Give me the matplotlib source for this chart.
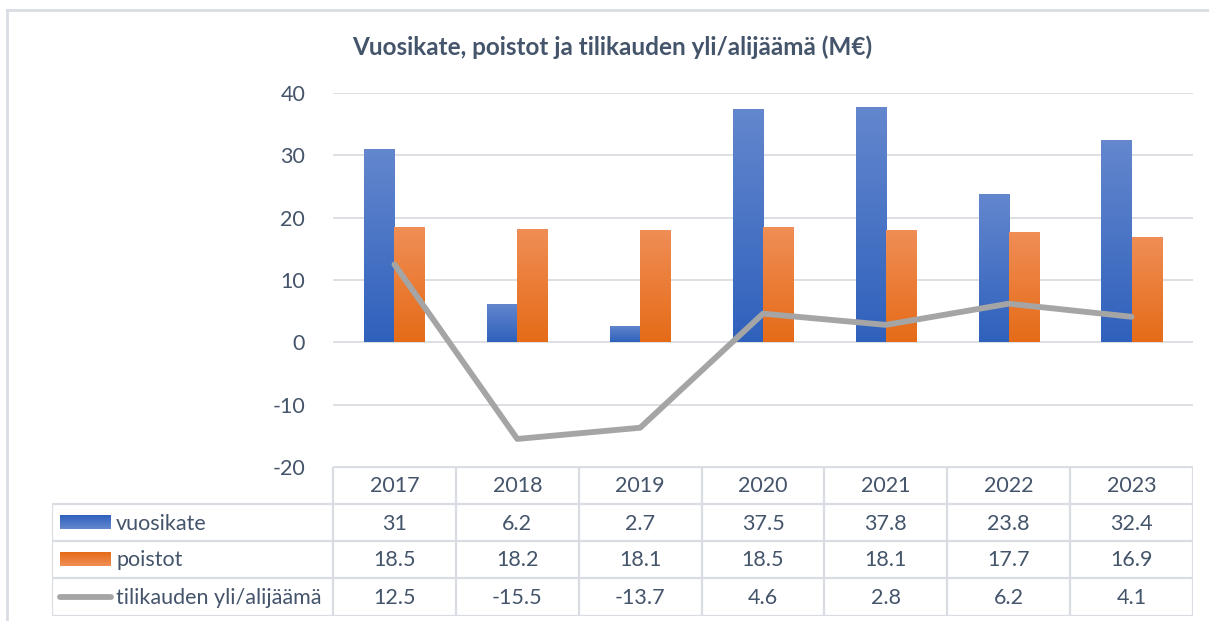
import numpy as np
import matplotlib
matplotlib.use("Agg")
import matplotlib.pyplot as plt
from matplotlib.colors import LinearSegmentedColormap
from matplotlib.lines import Line2D

years = ["2017", "2018", "2019", "2020", "2021", "2022", "2023"]
vuosikate = [31, 6.2, 2.7, 37.5, 37.8, 23.8, 32.4]
poistot = [18.5, 18.2, 18.1, 18.5, 18.1, 17.7, 16.9]
yli_alijaama = [12.5, -15.5, -13.7, 4.6, 2.8, 6.2, 4.1]
series_names = ["vuosikate", "poistot", "tilikauden yli/alijäämä"]
title = "Vuosikate, poistot ja tilikauden yli/alijäämä (M€)"

plt.rcParams["font.family"] = ["Lato", "DejaVu Sans"]
plt.rcParams["axes.unicode_minus"] = False
text_col = "#44546A"
grid_col = "#D9DDE3"
W, H = 1209, 621

fig = plt.figure(figsize=(W / 100, H / 100), dpi=100)


def px_axes(x0, y0, x1, y1):
    # pixel box (top-left origin) -> figure axes
    return fig.add_axes([x0 / W, 1 - y1 / H, (x1 - x0) / W, (y1 - y0) / H])


# outer chart frame (top and left edges visible)
frame = fig.add_axes([0, 0, 1, 1])
frame.set_xlim(0, W)
frame.set_ylim(H, 0)
frame.axis("off")
frame.plot([7, W], [10, 10], color=grid_col, lw=2)
frame.plot([7, 7], [10, H], color=grid_col, lw=2)

plot_l, plot_r, plot_t, plot_b = 333, 1193, 93, 467
ax = px_axes(plot_l, plot_t, plot_r, plot_b)
n = len(years)
x = np.arange(n)
bw = 0.245

ax.set_xlim(-0.5, n - 0.5)
ax.set_ylim(-20, 40)
ax.set_yticks(range(-20, 41, 10))
for v in range(-20, 41, 10):
    ax.axhline(v, color=grid_col, lw=1.3, zorder=0)
for s in ax.spines.values():
    s.set_visible(False)
ax.set_xticks([])
ax.tick_params(axis="y", length=0, labelsize=15.5, labelcolor=text_col, pad=20)


def gradient_bars(xs, heights, c_top, c_bot):
    bars = ax.bar(xs, heights, width=bw, color=c_bot, zorder=2)
    cmap = LinearSegmentedColormap.from_list("g", [c_bot, c_top])
    grad = np.linspace(0, 1, 256).reshape(-1, 1)
    for b in bars:
        bx, by = b.get_x(), b.get_y()
        im = ax.imshow(grad, cmap=cmap, origin="lower", aspect="auto",
                       extent=[bx, bx + b.get_width(), by, by + b.get_height()],
                       zorder=2.1)
        im.set_clip_path(b)
    return bars


blue_top, blue_bot = "#6487CE", "#2F61BC"
orange_top, orange_bot = "#F08E56", "#E56B17"
gradient_bars(x - bw / 2, vuosikate, blue_top, blue_bot)
gradient_bars(x + bw / 2, poistot, orange_top, orange_bot)
ax.plot(x, yli_alijaama, color="#A5A5A5", lw=4.2, solid_capstyle="round",
        solid_joinstyle="round", zorder=3)
ax.set_xlim(-0.5, n - 0.5)
ax.set_ylim(-20, 40)

fig.text(612 / W, 1 - 47 / H, title, ha="center", va="center",
         fontsize=17.5, fontweight="bold", color=text_col)

# data table
tab_l, tab_t, tab_b = 52, 467, 616
row_y = [467, 504, 541, 578, 616]
colw = (plot_r - plot_l) / n
tx = px_axes(tab_l, tab_t, plot_r, tab_b)
tx.set_xlim(-0.5 - (plot_l - tab_l) / colw, n - 0.5)
tx.set_ylim(tab_b, tab_t)
tx.axis("off")

lc = dict(color=grid_col, lw=1.6, solid_capstyle="butt")
x_left = -0.5 - (plot_l - tab_l) / colw
for yv in row_y[1:]:
    tx.plot([x_left, n - 0.5], [yv, yv], **lc)
tx.plot([-0.5, n - 0.5], [row_y[0], row_y[0]], **lc)
for i in range(n + 1):
    tx.plot([i - 0.5, i - 0.5], [row_y[0], row_y[-1]], **lc)
tx.plot([x_left, x_left], [row_y[1], row_y[-1]], **lc)

fs = 15.5
for i, yr in enumerate(years):
    tx.text(i, (row_y[0] + row_y[1]) / 2 + 1, yr, ha="center", va="center",
            fontsize=fs, color=text_col)
rows = [vuosikate, poistot, yli_alijaama]
for r, vals in enumerate(rows):
    yc = (row_y[r + 1] + row_y[r + 2]) / 2 + 1
    for i, v in enumerate(vals):
        tx.text(i, yc, f"{v:g}", ha="center", va="center", fontsize=fs,
                color=text_col)

# legend keys inside the table
lg = frame
key_x0, key_x1 = 60, 111
for r, (ct, cb) in enumerate([(blue_top, blue_bot), (orange_top, orange_bot)]):
    yc = (row_y[r + 1] + row_y[r + 2]) / 2
    grad = np.linspace(0, 1, 64).reshape(-1, 1)
    cmap = LinearSegmentedColormap.from_list("k", [cb, ct])
    lg.imshow(grad, cmap=cmap, origin="upper", aspect="auto",
              extent=[key_x0, key_x1, yc + 7, yc - 7])
    lg.text(116, yc + 1, series_names[r], ha="left", va="center", fontsize=fs,
            color=text_col)
yc = (row_y[3] + row_y[4]) / 2
lg.add_line(Line2D([60, 111], [yc, yc], color="#A5A5A5", lw=4.2,
                   solid_capstyle="round"))
lg.text(116, yc + 1, series_names[2], ha="left", va="center", fontsize=fs,
        color=text_col)
lg.set_xlim(0, W)
lg.set_ylim(H, 0)

fig.savefig("out.png", dpi=100)
